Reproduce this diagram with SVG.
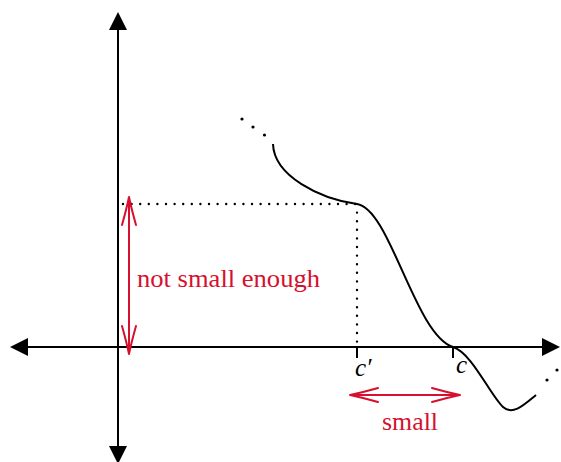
<svg xmlns="http://www.w3.org/2000/svg" width="561" height="462" viewBox="0 0 561 462">
<style>
.ax{stroke:#000;stroke-width:2;fill:none}
.tip{fill:#000}
.dot{stroke:#000;stroke-width:2.4;stroke-linecap:round;stroke-dasharray:0 8.6;fill:none}
.red{stroke:#d6102e;stroke-width:2;fill:none;stroke-linecap:round;stroke-linejoin:round}
.lbl{font-family:"Liberation Serif","DejaVu Serif",serif;font-size:25px;fill:#d6102e}
.math{font-family:"Liberation Serif","DejaVu Serif",serif;font-size:25px;font-style:italic;fill:#000}
</style>
<rect width="561" height="462" fill="#fff"/>
<g id="axes">
<line class="ax" x1="118" y1="28" x2="118" y2="448"/>
<line class="ax" x1="26" y1="347" x2="544" y2="347"/>
<polygon class="tip" points="118,12 109,30 127,30"/>
<polygon class="tip" points="118,464 109,446 127,446"/>
<polygon class="tip" points="10,347 28,338 28,356"/>
<polygon class="tip" points="560,347 542,338 542,356"/>
<line class="ax" x1="357" y1="347" x2="357" y2="358"/>
<line class="ax" x1="453" y1="347" x2="453" y2="358"/>
</g>
<g id="curve">
<path class="ax" d="M273,144 C274,176 320,199 357,204 C390,208.5 415,335 453,347 C472,353 490,395 503,407 C513,416 525,404 536,395"/>
<circle cx="242" cy="119" r="1.6"/>
<circle cx="253" cy="127" r="1.6"/>
<circle cx="264.5" cy="135" r="1.6"/>
<circle cx="547" cy="380" r="1.6"/>
<circle cx="557" cy="370" r="1.6"/>
</g>
<g id="guides">
<line class="dot" x1="123" y1="204" x2="357" y2="204"/>
<line class="dot" x1="357" y1="212.6" x2="357" y2="343"/>
</g>
<g id="not-small-enough">
<line class="red" x1="129" y1="198" x2="129" y2="353"/>
<path class="red" d="M122,225 Q127,207 129,197 Q131,207 136,225"/>
<path class="red" d="M122,326 Q127,344 129,354 Q131,344 136,326"/>
<text class="lbl" x="137" y="287" textLength="183" lengthAdjust="spacingAndGlyphs">not small enough</text>
</g>
<g id="small">
<line class="red" x1="351" y1="395" x2="459" y2="395"/>
<path class="red" d="M378,388 Q360,393 350,395 Q360,397 378,402"/>
<path class="red" d="M432,388 Q450,393 460,395 Q450,397 432,402"/>
<text class="lbl" x="410" y="430" text-anchor="middle" textLength="56" lengthAdjust="spacingAndGlyphs">small</text>
</g>
<g id="labels">
<text class="math" x="355" y="376">c′</text>
<text class="math" x="456" y="373">c</text>
</g>
</svg>
